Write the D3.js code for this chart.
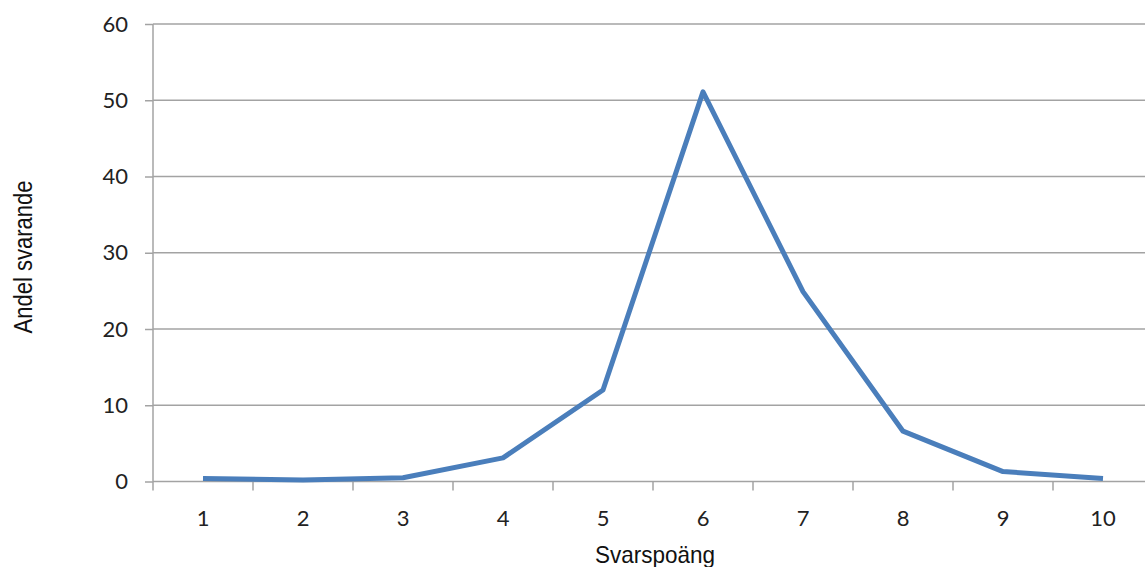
<!DOCTYPE html>
<html><head><meta charset="utf-8">
<script src="https://cdn.jsdelivr.net/npm/d3@7"></script>
<style>
html,body{margin:0;padding:0;background:#fff;overflow:hidden;}
svg{display:block;}
</style></head>
<body>
<svg id="chart" width="1145" height="567"></svg>
<script>
const categories = ["1","2","3","4","5","6","7","8","9","10"];
const values = [0.4, 0.2, 0.5, 3.1, 12.0, 51.1, 24.9, 6.6, 1.3, 0.4];
const yTicks = [0, 10, 20, 30, 40, 50, 60];
const xTitle = "Svarspoäng";
const yTitle = "Andel svarande";

(function(){
const svg = d3.select("#chart");
const mLeft = 153, mRight = 1153, mTop = 24, mBottom = 481.5;

const x = d3.scaleBand().domain(categories).range([mLeft, mRight]).padding(0);
const y = d3.scaleLinear().domain([0, 60]).range([mBottom, mTop]);

const gridColor = "#a3a3a3";
const font = "Lato, 'Open Sans', sans-serif";

// gridlines
svg.append("g").selectAll("line").data(yTicks.filter(d => d > 0)).join("line")
  .attr("x1", mLeft).attr("x2", 1145)
  .attr("y1", d => y(d)).attr("y2", d => y(d))
  .attr("stroke", gridColor).attr("stroke-width", 1.5);

// y axis
const yAxis = svg.append("g").attr("transform", `translate(${mLeft},0)`)
  .call(d3.axisLeft(y).tickValues(yTicks).tickSize(8).tickPadding(10));
yAxis.select(".domain").attr("stroke", gridColor).attr("stroke-width", 1.5).attr("fill", "none")
  .attr("d", `M0,${mBottom}V${mTop}`);
yAxis.selectAll(".tick line").attr("stroke", gridColor).attr("stroke-width", 1.5);
yAxis.selectAll(".tick text").attr("font-family", font).attr("font-size", 22).attr("fill", "#222")
  .attr("x", -25);

// x axis
const xAxis = svg.append("g").attr("transform", `translate(0,${mBottom})`)
  .call(d3.axisBottom(x).tickSize(0).tickPadding(0));
xAxis.select(".domain").remove();
xAxis.append("line").attr("x1", mLeft).attr("x2", 1145).attr("y1", 0).attr("y2", 0)
  .attr("stroke", gridColor).attr("stroke-width", 1.5);
xAxis.selectAll("line.bt").data(categories).join("line").attr("class", "bt")
  .attr("x1", d => x(d)).attr("x2", d => x(d)).attr("y1", 0).attr("y2", 9)
  .attr("stroke", gridColor).attr("stroke-width", 1.5);
xAxis.selectAll(".tick text").attr("font-family", font).attr("font-size", 22).attr("fill", "#222")
  .attr("y", 44).attr("dy", 0);

// line
const line = d3.line().x((d, i) => x(categories[i]) + x.bandwidth() / 2).y(d => y(d));
svg.append("path").datum(values)
  .attr("d", line).attr("fill", "none")
  .attr("stroke", "#4a7ebb").attr("stroke-width", 5)
  .attr("stroke-linejoin", "round").attr("stroke-linecap", "butt");

// titles
svg.append("text").text(xTitle)
  .attr("x", 595).attr("y", 563)
  .attr("font-family", "'Liberation Sans', Arial, sans-serif").attr("font-size", 24)
  .attr("textLength", 120).attr("lengthAdjust", "spacingAndGlyphs").attr("fill", "#111");

svg.append("text").text(yTitle)
  .attr("transform", "translate(32,257) rotate(-90)")
  .attr("text-anchor", "middle")
  .attr("font-family", "'Liberation Sans', Arial, sans-serif").attr("font-size", 26)
  .attr("textLength", 153).attr("lengthAdjust", "spacingAndGlyphs").attr("fill", "#111");
})();
</script>
</body></html>
